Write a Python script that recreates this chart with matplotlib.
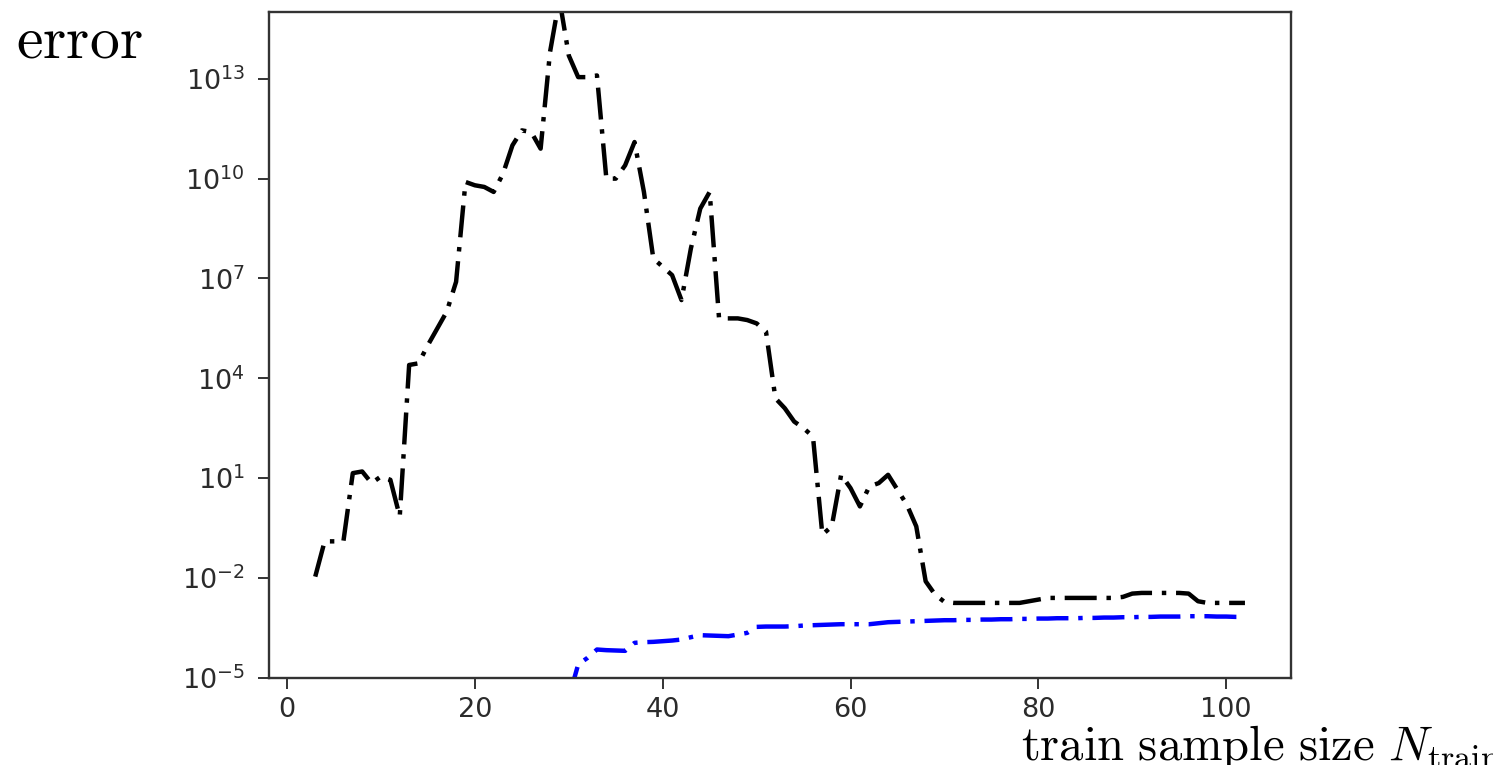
import numpy as np
import matplotlib
matplotlib.use('Agg')
import matplotlib.pyplot as plt
from matplotlib.ticker import NullLocator

plt.rcParams['mathtext.fontset'] = 'cm'

# train sample sizes and log10 of the error
n_train = list(range(3, 103))
log_err_black = [-1.96, -0.9, -0.9, -0.9, 1.15, 1.2, 0.85, 1.05, 0.95, -0.15,
                 4.4, 4.45, 5.0, 5.5, 6.0, 6.9, 9.9, 9.8, 9.75, 9.6,
                 10.15, 11.0, 11.45, 11.4, 10.9, 13.8, 15.4, 13.7, 13.05, 13.05,
                 13.1, 10.0, 10.0, 10.4, 11.1, 9.6, 7.6, 7.35, 7.1, 6.35,
                 7.9, 9.1, 9.6, 5.8, 5.8, 5.8, 5.75, 5.65, 5.4, 3.4,
                 3.1, 2.7, 2.5, 2.25, -0.7, -0.45, 1.1, 0.7, 0.15, 0.75,
                 0.85, 1.1, 0.65, 0.2, -0.45, -2.1, -2.5, -2.72, -2.75, -2.75,
                 -2.75, -2.75, -2.75, -2.75, -2.75, -2.75, -2.7, -2.65, -2.6, -2.6,
                 -2.6, -2.6, -2.6, -2.6, -2.6, -2.6, -2.57, -2.47, -2.45, -2.45,
                 -2.45, -2.45, -2.45, -2.47, -2.7, -2.75, -2.75, -2.75, -2.75, -2.75]

n_train_blue = list(range(30, 103))
log_err_blue = [-5.6, -4.6, -4.4, -4.15, -4.17, -4.18, -4.19, -3.95, -3.93, -3.92,
                -3.9, -3.88, -3.85, -3.78, -3.72, -3.73, -3.74, -3.75, -3.7, -3.65,
                -3.47, -3.46, -3.46, -3.46, -3.45, -3.43, -3.42, -3.41, -3.4, -3.39,
                -3.39, -3.39, -3.39, -3.36, -3.33, -3.32, -3.31, -3.3, -3.29, -3.28,
                -3.27, -3.27, -3.26, -3.26, -3.25, -3.25, -3.24, -3.24, -3.23, -3.23,
                -3.22, -3.22, -3.21, -3.21, -3.21, -3.2, -3.2, -3.19, -3.19, -3.18,
                -3.18, -3.17, -3.17, -3.16, -3.16, -3.16, -3.15, -3.15, -3.15, -3.16,
                -3.16, -3.17, -3.17]

yticks = [1e-5, 1e-2, 1e1, 1e4, 1e7, 1e10, 1e13]
xticks = [0, 20, 40, 60, 80, 100]

fig = plt.figure(figsize=(14.93, 7.65), dpi=100)
ax = fig.add_axes([0.180, 0.114, 0.685, 0.870])

dash = (0, (7.2, 2.2, 1, 2.2))
ax.plot(n_train, 10 ** np.array(log_err_black), color='k', lw=3.2, linestyle=dash)
ax.plot(n_train_blue, 10 ** np.array(log_err_blue), color='b', lw=3.2, linestyle=dash)

ax.set_yscale('log')
ax.set_ylim(1e-5, 1e15)
ax.set_xlim(-1.95, 106.95)
ax.set_yticks(yticks)
ax.set_xticks(xticks)
ax.yaxis.set_minor_locator(NullLocator())
ax.tick_params(labelsize=19.5, labelcolor='#2b2b2b', length=8, width=1.4,
               color='#333333')
ax.tick_params(axis='y', pad=9)
ax.tick_params(axis='x', pad=6)
for s in ax.spines.values():
    s.set_linewidth(1.7)
    s.set_color('#333333')

fig.text(0.011, 0.925, r'$\mathrm{error}$', fontsize=43, va='baseline', ha='left')
fig.text(0.684, 0.006, r'$\mathrm{train\ sample\ size}\ N_{\mathrm{train}}$',
         fontsize=35, va='baseline', ha='left')

fig.savefig('out.png', dpi=100)
